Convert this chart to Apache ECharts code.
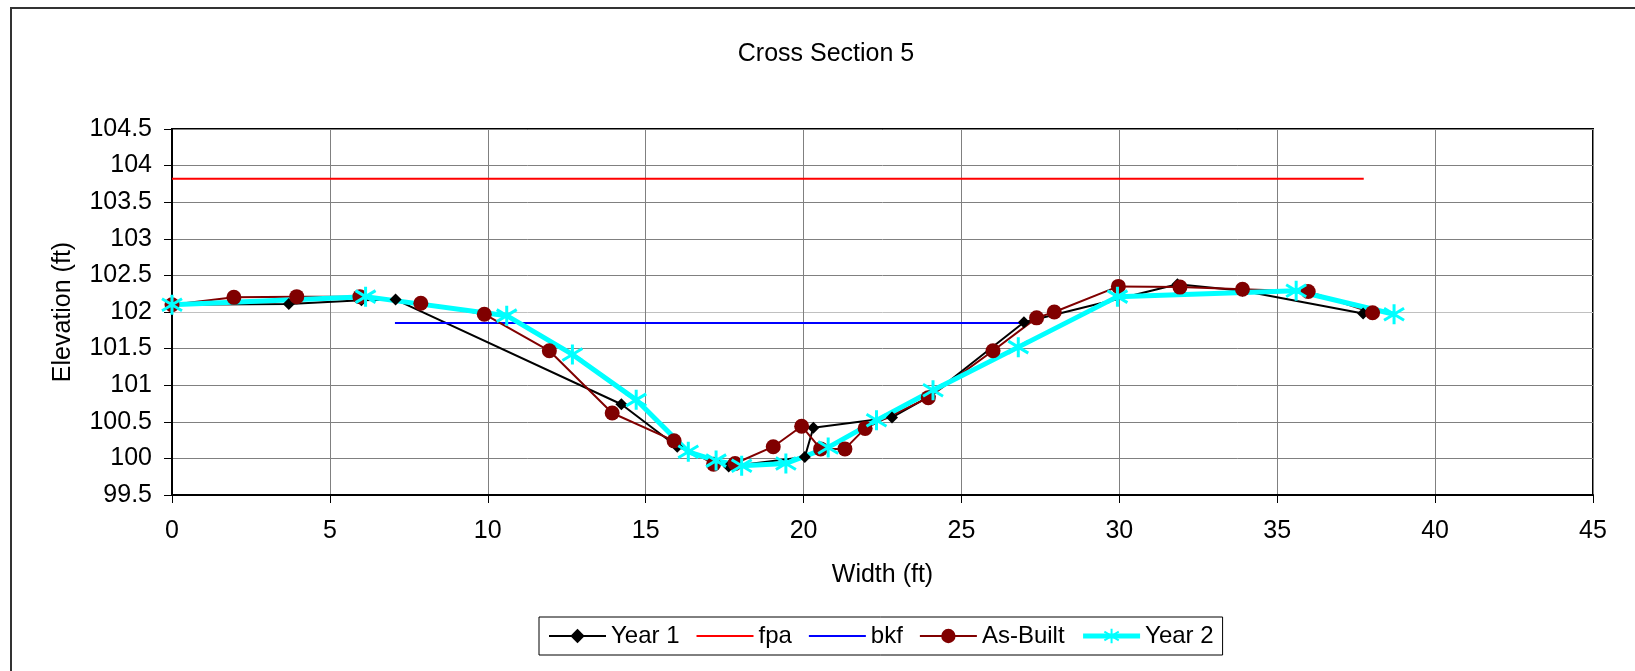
<!DOCTYPE html>
<html>
<head>
<meta charset="utf-8">
<script src="https://cdn.jsdelivr.net/npm/echarts@6/dist/echarts.min.js"></script>
<style>
  html, body { margin: 0; padding: 0; background: #fff; }
  #chart { width: 1635px; height: 671px; }
</style>
</head>
<body>
<div id="chart"></div>
<script>
// survey points, [width ft, elevation ft]
const year1 = [[0, 102.1], [3.7, 102.11], [6.0, 102.16], [7.08, 102.17], [14.23, 100.74], [16.0, 100.16],
  [17.63, 99.89], [20.04, 100.02], [20.31, 100.42], [22.8, 100.56], [24.0, 100.85], [26.98, 101.86],
  [31.84, 102.38], [33.9, 102.29], [37.72, 101.98]];
const fpa = [[0, 103.82], [37.74, 103.82]];
const bkf = [[7.06, 101.85], [26.98, 101.85]];
const asBuilt = [[0, 102.1], [1.96, 102.2], [3.95, 102.21], [5.95, 102.21], [7.88, 102.12], [9.89, 101.97],
  [11.95, 101.47], [13.94, 100.62], [15.9, 100.24], [17.15, 99.92], [17.83, 99.93], [19.04, 100.16],
  [19.94, 100.44], [20.54, 100.13], [21.31, 100.13], [21.95, 100.41], [23.95, 100.83], [26.0, 101.47],
  [27.38, 101.92], [27.94, 102.0], [29.97, 102.35], [31.92, 102.34], [33.9, 102.31], [35.98, 102.28],
  [38.02, 101.99]];
const year2 = [[0, 102.1], [6.13, 102.21], [10.6, 101.95], [12.68, 101.42], [14.7, 100.8], [16.35, 100.09],
  [17.23, 99.97], [18.04, 99.9], [19.44, 99.93], [20.78, 100.15], [22.31, 100.52], [24.1, 100.93],
  [26.8, 101.52], [29.94, 102.21], [35.6, 102.29], [38.7, 101.97]];

const font = "'Liberation Sans', Arial, sans-serif";
const starPath = "path://M10,0 L10,20 M1,4 L19,16 M1,16 L19,4";

// the 102 grid line comes out lighter in the original
const yGridColors = ["#808080", "#808080", "#808080", "#808080", "#808080", "#c0c0c0",
  "#808080", "#808080", "#808080", "#808080", "#808080"];

const chart = echarts.init(document.getElementById("chart"));

const option = {
  animation: false,
  backgroundColor: "#fff",
  textStyle: { fontFamily: font, color: "#000" },
  graphic: [
    {
      type: "rect",
      shape: { x: 11, y: 8, width: 1700, height: 700 },
      style: { fill: "none", stroke: "#333", lineWidth: 2 },
      silent: true
    },
    {
      type: "text",
      x: 826,
      y: 42,
      style: { text: "Cross Section 5", font: "25px " + font, fill: "#000", align: "center", verticalAlign: "top" }
    }
  ],
  legend: {
    // plain lines for fpa / bkf, no marker
    data: [
      { name: "Year 1", lineStyle: { width: 2 } },
      { name: "fpa", itemStyle: { opacity: 0 }, lineStyle: { width: 2 } },
      { name: "bkf", itemStyle: { opacity: 0 }, lineStyle: { width: 2 } },
      { name: "As-Built", lineStyle: { width: 2 } },
      { name: "Year 2", lineStyle: { width: 5 } }
    ],
    left: 539,
    top: 617,
    padding: [7, 9],
    itemGap: 16,
    itemWidth: 57,
    itemHeight: 18,
    borderColor: "#000",
    borderWidth: 1,
    textStyle: { fontSize: 24, fontFamily: font, color: "#000" }
  },
  grid: {
    left: 172,
    right: 42,
    top: 129,
    bottom: 176,
    show: true,
    borderColor: "#000",
    borderWidth: 2,
    containLabel: false
  },
  xAxis: {
    type: "value",
    min: 0,
    max: 45,
    interval: 5,
    name: "Width (ft)",
    nameLocation: "middle",
    nameGap: 68,
    nameTextStyle: { fontSize: 25, fontFamily: font, color: "#000" },
    axisLine: { lineStyle: { color: "#000", width: 2 } },
    axisTick: { show: true, inside: false, length: 8, lineStyle: { color: "#000", width: 1 } },
    axisLabel: { fontSize: 25, fontFamily: font, color: "#000", margin: 24 },
    splitLine: { show: true, lineStyle: { color: "#808080", width: 1 } }
  },
  yAxis: {
    type: "value",
    min: 99.5,
    max: 104.5,
    interval: 0.5,
    name: "Elevation (ft)",
    nameLocation: "middle",
    nameGap: 96,
    nameRotate: 90,
    nameTextStyle: { fontSize: 25, fontFamily: font, color: "#000" },
    axisLine: { show: true, lineStyle: { color: "#000", width: 2 } },
    axisTick: { show: true, inside: false, length: 8, lineStyle: { color: "#000", width: 1 } },
    axisLabel: { fontSize: 25, fontFamily: font, color: "#000", margin: 20 },
    splitLine: { show: true, lineStyle: { color: yGridColors, width: 1 } }
  },
  series: [
    {
      name: "Year 1",
      type: "line",
      data: year1,
      symbol: "diamond",
      symbolSize: 12,
      itemStyle: { color: "#000" },
      lineStyle: { color: "#000", width: 2 }
    },
    {
      name: "fpa",
      type: "line",
      data: fpa,
      symbol: "none",
      itemStyle: { color: "#ff0000" },
      lineStyle: { color: "#ff0000", width: 2 }
    },
    {
      name: "bkf",
      type: "line",
      data: bkf,
      symbol: "none",
      itemStyle: { color: "#0000ff" },
      lineStyle: { color: "#0000ff", width: 2 }
    },
    {
      name: "As-Built",
      type: "line",
      data: asBuilt,
      symbol: "circle",
      symbolSize: 15,
      itemStyle: { color: "#800000" },
      lineStyle: { color: "#800000", width: 2 }
    },
    {
      name: "Year 2",
      type: "line",
      data: year2,
      symbol: starPath,
      symbolSize: 20,
      itemStyle: { color: "#00ffff", borderColor: "#00ffff", borderWidth: 3 },
      lineStyle: { color: "#00ffff", width: 5 }
    }
  ]
};

chart.setOption(option);
</script>
</body>
</html>
